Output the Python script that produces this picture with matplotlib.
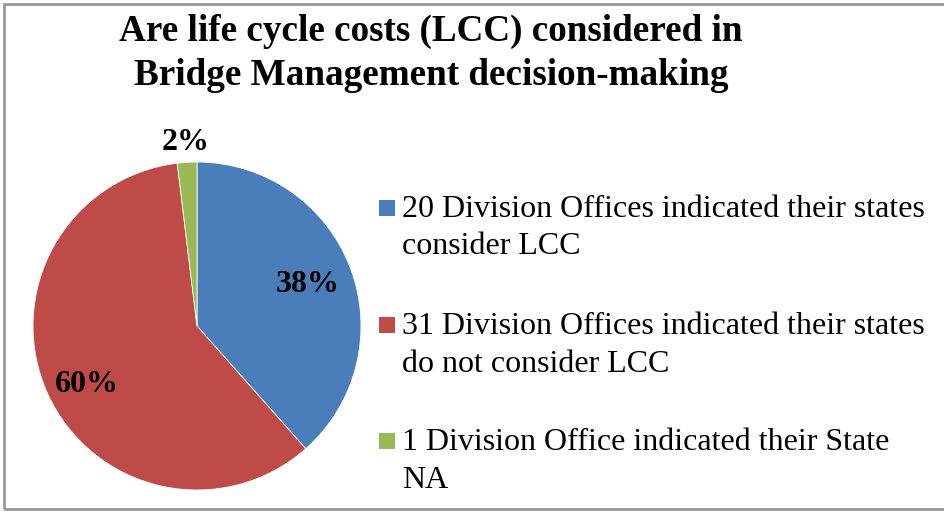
import numpy as np
import matplotlib
matplotlib.use("Agg")
import matplotlib.pyplot as plt
from matplotlib.patches import Rectangle

# values
labels = ["20 Division Offices indicated their states\nconsider LCC",
          "31 Division Offices indicated their states\ndo not consider LCC",
          "1 Division Office indicated their State\nNA"]
counts = [20, 31, 1]
colors = ["#4A7EBB", "#BE4B48", "#98B954"]
title = "Are life cycle costs (LCC) considered in\nBridge Management decision-making"

plt.rcParams['font.family'] = ['Liberation Serif', 'DejaVu Serif']

W, H = 945, 517
fig = plt.figure(figsize=(W / 100, H / 100), dpi=100)

# gray frame round the chart
fig.patches.append(Rectangle((4 / W, 1 - 509 / H), 1.2, (505 / H), transform=fig.transFigure,
                             fill=False, edgecolor="#999999", linewidth=2.0))

# pie axes, centre (197, 326) px, radius 164 px
cx, cy, r = 197, 326, 164
ax = fig.add_axes([(cx - r) / W, (H - cy - r) / H, 2 * r / W, 2 * r / H])
wedges, texts, autotexts = ax.pie(counts, colors=colors, startangle=90, counterclock=False,
                                  autopct='%.0f%%', pctdistance=0.72,
                                  wedgeprops=dict(edgecolor="white", linewidth=0.6),
                                  textprops=dict(fontsize=23, fontweight='bold', color='black'))
ax.set_xlim(-1, 1)
ax.set_ylim(-1, 1)
ax.set_aspect('equal')
ax.axis('off')

# label distance and angle nudge as placed in the original
for w, t, d, da in zip(wedges, autotexts, [0.72, 0.76, 1.12], [0, 4, 0]):
    a = np.deg2rad((w.theta1 + w.theta2) / 2 + da)
    t.set_position((d * np.cos(a), d * np.sin(a)))
    t.set_clip_on(False)

fig.text(431 / W, 1 - 85 / H, title, ha='center', va='baseline', fontsize=26.7,
         fontweight='bold', linespacing=1.32, multialignment='center')

# legend drawn by hand
base = [217, 334, 450]
for lab, col, b in zip(labels, colors, base):
    fig.patches.append(Rectangle((379 / W, 1 - (b - 1) / H), 16 / W, 16 / H,
                                 transform=fig.transFigure, facecolor=col, edgecolor='none'))
    for i, line in enumerate(lab.split("\n")):
        fig.text(402 / W, 1 - (b + 37.5 * i) / H, line, ha='left', va='baseline', fontsize=23)

fig.savefig("out.png", dpi=100)
